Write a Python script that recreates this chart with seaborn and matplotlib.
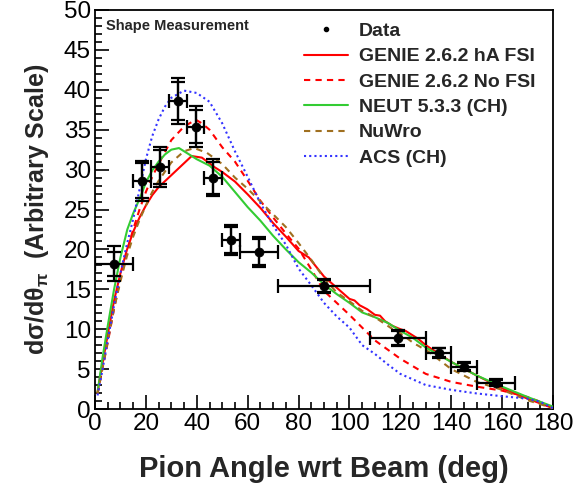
import numpy as np
import pandas as pd
import matplotlib
matplotlib.use("Agg")
import matplotlib.pyplot as plt
import seaborn as sns
from matplotlib.ticker import MultipleLocator

# ---------------- data ----------------
bin_lo = [0, 15, 22, 29, 36, 43, 50, 57, 72, 108, 130, 140, 150]
bin_hi = [15, 22, 29, 36, 43, 50, 57, 72, 108, 130, 140, 150, 165]
data_y = [18.2, 28.6, 30.3, 38.6, 35.4, 29.0, 21.2, 19.7, 15.4, 8.9, 7.05, 5.3, 3.3]
err_tot = [2.2, 2.5, 2.5, 2.9, 2.6, 2.3, 1.9, 1.85, 0.9, 1.0, 0.65, 0.55, 0.45]
err_stat = [1.5, 2.2, 2.1, 2.4, 2.1, 2.0, 1.6, 1.6, 0.8, 0.85, 0.55, 0.45, 0.35]

genie_ha_x = [1, 3, 5, 7.5, 10, 12.5, 15, 17.5, 20, 22.5, 25, 30, 35, 38, 42, 47, 50, 55, 60, 65,
              70, 75, 80, 82, 84, 86, 90, 95, 100, 102, 104, 107, 110, 112, 114, 117, 120, 122,
              124, 127, 130, 140, 150, 160, 170, 180]
genie_ha_y = [2.1, 5.8, 9.3, 13.6, 17.0, 19.9, 22.2, 24.0, 25.5, 26.8, 27.8, 29.3, 30.8, 31.7,
              31.5, 30.3, 29.7, 28.5, 26.9, 25.2, 23.3, 21.6, 19.8, 19.4, 19.0, 18.2, 16.6, 15.2,
              13.8, 13.6, 13.0, 12.5, 11.8, 11.7, 11.0, 10.4, 10.0, 9.8, 9.4, 8.8, 8.0, 5.9, 4.2,
              2.6, 1.3, 0.1]

genie_nofsi_x = [1, 3, 5, 7.5, 10, 12.5, 15, 17.5, 20, 22.5, 25, 30, 35, 39.6, 42, 45, 50, 55,
                 60, 65, 70, 75, 80, 85, 90, 95, 100, 105, 110, 120, 130, 140, 150, 160, 170,
                 175, 180]
genie_nofsi_y = [1.9, 5.2, 8.3, 12.6, 16.3, 19.7, 22.5, 25.0, 27.2, 29.1, 30.7, 33.7, 35.4,
                 36.25, 35.8, 35.0, 32.8, 31.0, 28.6, 26.1, 24.0, 22.0, 20.1, 17.5, 14.8, 13.3,
                 11.8, 10.2, 8.6, 6.3, 4.4, 3.4, 2.8, 2.3, 1.5, 0.9, 0.1]

neut_x = [1, 3, 5, 7.5, 10, 12.7, 15, 18, 20, 22.5, 25, 27.5, 30, 33, 35, 40, 45, 50, 55, 60, 65,
          70, 75, 80, 85, 90, 95, 100, 105, 110, 115, 120, 125, 130, 140, 150, 160, 170, 180]
neut_y = [2.1, 6.5, 10.4, 15.0, 19.0, 22.5, 24.5, 26.7, 28.4, 29.9, 31.0, 31.9, 32.5, 32.7,
          32.3, 31.3, 30.5, 29.1, 27.2, 25.3, 23.6, 21.7, 20.0, 18.4, 17.1, 15.6, 14.4, 13.3,
          12.1, 11.5, 10.8, 9.8, 8.9, 7.7, 5.9, 4.2, 2.8, 1.5, 0.3]

nuwro_x = [1, 3, 5, 7.5, 10, 12.5, 15, 17.5, 20, 22.5, 25, 30, 35, 39, 44, 50, 55, 60, 65, 70,
           75, 80, 85, 90, 95, 100, 105, 110, 117, 120, 125, 131, 140, 150, 160, 170, 180]
nuwro_y = [1.9, 5.2, 8.5, 12.6, 16.0, 19.1, 21.6, 23.7, 25.5, 27.2, 28.6, 30.9, 32.3, 32.7,
           32.1, 30.7, 29.0, 27.6, 26.0, 24.4, 22.8, 20.8, 18.7, 16.4, 14.6, 13.5, 12.3, 11.5,
           10.0, 9.5, 8.3, 7.2, 5.0, 3.4, 2.4, 1.1, 0.1]

acs_x = [1, 3, 5, 7.5, 10, 12.5, 15, 17.5, 20, 22.5, 25, 27.5, 30, 35, 40, 45, 50, 55, 60, 65,
         70, 75, 80, 85, 90, 95, 100, 105, 110, 115, 120, 130, 140, 150, 160, 170, 175, 180]
acs_y = [1.7, 5.0, 8.6, 13.0, 17.0, 20.6, 23.8, 27.5, 31.3, 34.2, 36.3, 37.9, 39.0, 39.9, 39.6,
         38.5, 35.8, 32.3, 29.1, 25.8, 23.0, 20.6, 17.6, 15.5, 13.3, 11.6, 10.2, 8.0, 6.9, 5.6,
         4.4, 3.0, 2.4, 1.95, 1.6, 1.3, 0.9, 0.1]

# ---------------- style ----------------
sns.set_style("ticks")
plt.rcParams["font.family"] = ["Liberation Sans", "DejaVu Sans"]
plt.rcParams["mathtext.fontset"] = "custom"
plt.rcParams["mathtext.rm"] = "Liberation Sans:bold"
plt.rcParams["mathtext.it"] = "Liberation Sans:bold"
plt.rcParams["mathtext.bf"] = "Liberation Sans:bold"

fig = plt.figure(figsize=(5.75, 4.87), dpi=100)
ax = fig.add_axes([95 / 575, 1 - 409 / 487, 458 / 575, 399 / 487])

models = [
    ("GENIE 2.6.2 hA FSI", genie_ha_x, genie_ha_y, "#ff0000", "-"),
    ("GENIE 2.6.2 No FSI", genie_nofsi_x, genie_nofsi_y, "#ff0000", (0, (3, 2.5))),
    ("NEUT 5.3.3 (CH)", neut_x, neut_y, "#33cc33", "-"),
    ("NuWro", nuwro_x, nuwro_y, "#a07020", (0, (3, 2.5))),
    ("ACS (CH)", acs_x, acs_y, "#3333ff", (0, (1, 1.5))),
]

# data points
xc = [(a + b) / 2 for a, b in zip(bin_lo, bin_hi)]
xe = [(b - a) / 2 for a, b in zip(bin_lo, bin_hi)]
ax.errorbar(xc, data_y, xerr=xe, yerr=err_tot, fmt="none", ecolor="black",
            elinewidth=1.6, capsize=5, capthick=1.6, zorder=5)
ax.errorbar(xc, data_y, yerr=err_stat, fmt="none", ecolor="black",
            elinewidth=1.6, capsize=5, capthick=1.6, zorder=5)
df_data = pd.DataFrame({"x": xc, "y": data_y})
sns.scatterplot(data=df_data, x="x", y="y", ax=ax, color="black", s=42,
                edgecolor="black", zorder=6, legend=False)

handles = [plt.Line2D([], [], marker="o", color="black", markersize=3, linestyle="none")]
labels = ["Data"]
for name, xs, ys, col, ls in models:
    df = pd.DataFrame({"x": xs, "y": ys})
    sns.lineplot(data=df, x="x", y="y", ax=ax, color=col, linewidth=1.5,
                 legend=False, zorder=3, estimator=None, sort=False)
    line = ax.get_lines()[-1]
    line.set_linestyle(ls)
    handles.append(plt.Line2D([], [], color=col, linewidth=1.5, linestyle=ls))
    labels.append(name)

ax.set_xlim(0, 180)
ax.set_ylim(0, 50)
ax.xaxis.set_major_locator(MultipleLocator(20))
ax.xaxis.set_minor_locator(MultipleLocator(5))
ax.yaxis.set_major_locator(MultipleLocator(5))
ax.yaxis.set_minor_locator(MultipleLocator(1))
ax.tick_params(which="both", direction="in", top=False, right=False, width=1.2,
               labelsize=17.5, colors="black")
ax.tick_params(which="major", length=10, pad=3)
ax.tick_params(which="minor", length=5)
for s in ax.spines.values():
    s.set_linewidth(1.3)
    s.set_color("black")

ax.set_xlabel("Pion Angle wrt Beam (deg)", fontsize=21, fontweight="bold", labelpad=14)
ax.set_ylabel(r"d$\sigma$/d$\theta_{\pi}$  (Arbitrary Scale)", fontsize=18,
              fontweight="bold", labelpad=9)

ax.text(0.025, 0.978, "Shape Measurement", transform=ax.transAxes, fontsize=10.5,
        fontweight="bold", va="top", ha="left")

leg = ax.legend(handles, labels, loc="upper right", bbox_to_anchor=(1.0, 1.013),
                frameon=False, prop={"weight": "bold", "size": 14}, handlelength=2.3,
                labelspacing=0.40, handletextpad=0.55)

fig.savefig("out.png", dpi=100)
